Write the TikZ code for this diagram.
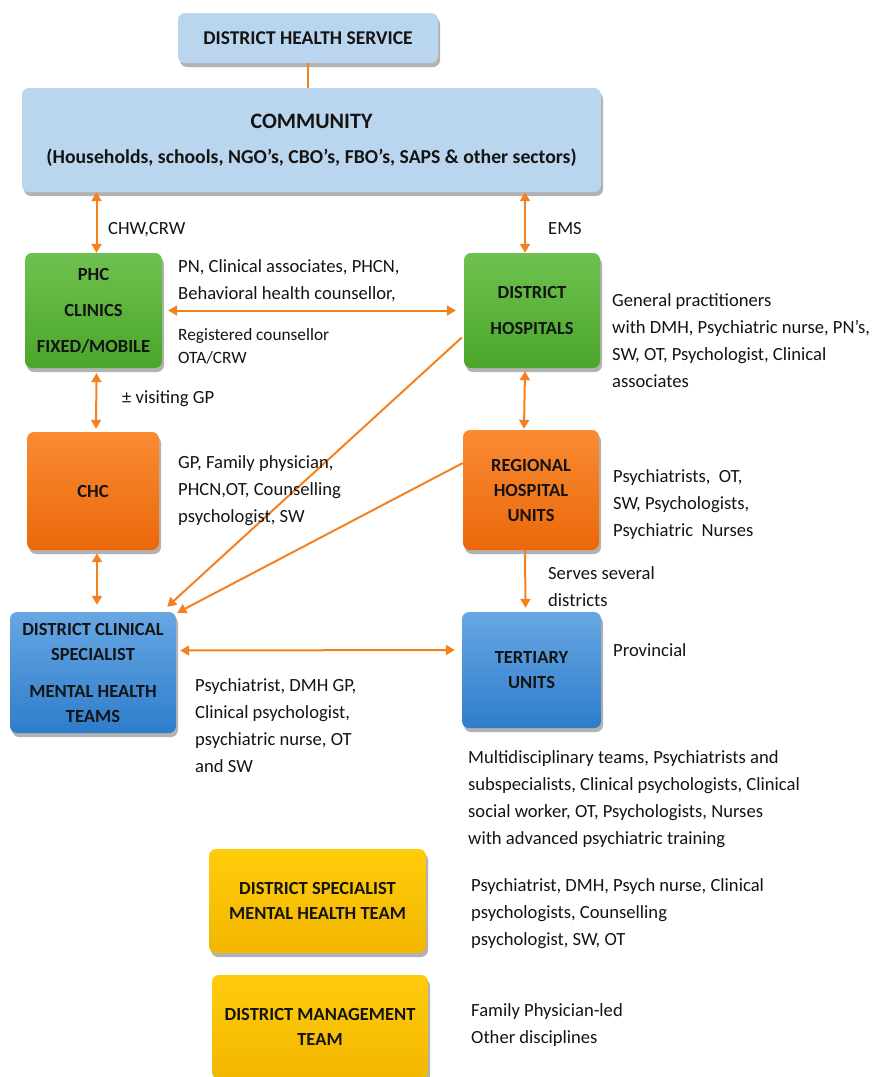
\documentclass[tikz,border=0pt]{standalone}
\usepackage{fontspec}
\setmainfont{Carlito}
\usetikzlibrary{arrows.meta,shadows,calc}
\definecolor{lblue}{HTML}{BAD5EE}
\definecolor{gtop}{HTML}{6FC14F}
\definecolor{gbot}{HTML}{4AA62A}
\definecolor{otop}{HTML}{F98B33}
\definecolor{obot}{HTML}{EB680A}
\definecolor{btop}{HTML}{67A7E3}
\definecolor{bbot}{HTML}{2E7DCB}
\definecolor{ytop}{HTML}{FFCC0A}
\definecolor{ybot}{HTML}{F2B700}
\definecolor{arrc}{HTML}{F5801F}
\definecolor{txt}{HTML}{141414}
\tikzset{
  box/.style={rounded corners=7pt, inner sep=0pt, align=center, text=txt,
    font=\bfseries\fontsize{18.5}{25}\selectfont,
    drop shadow={shadow xshift=2pt, shadow yshift=-4pt, opacity=0.3, fill=black}},
  greenbox/.style={box, top color=gtop, bottom color=gbot},
  orangebox/.style={box, top color=otop, bottom color=obot},
  bluebox/.style={box, top color=btop, bottom color=bbot},
  yellowbox/.style={box, top color=ytop, bottom color=ybot},
  lab/.style={anchor=base west, inner sep=0pt, align=left, text=txt,
    font=\fontsize{18.6}{27}\selectfont},
  tip/.tip={Triangle[length=9pt,width=10pt]},
  biarr/.style={draw=arrc, line width=2pt, tip-tip},
  onearr/.style={draw=arrc, line width=2pt, -tip},
  plain/.style={draw=arrc, line width=2pt}
}
\begin{document}
\begin{tikzpicture}[x=1pt,y=-1pt]
\useasboundingbox (0,0) rectangle (872,1077);
% boxes
\node[box, fill=lblue, minimum width=260pt, minimum height=50pt, font=\bfseries\fontsize{19.5}{25}\selectfont] (dhs) at (308,38) {DISTRICT HEALTH SERVICE};
\node[box, fill=lblue, minimum width=579pt, minimum height=104pt, font=\bfseries\fontsize{19.7}{25}\selectfont] (com) at (311.5,140)
  {{\fontsize{22}{26}\selectfont COMMUNITY}\\[10pt](Households, schools, NGO’s, CBO’s, FBO’s, SAPS \& other sectors)};
\node[greenbox, minimum width=137pt, minimum height=115pt] (phc) at (93.5,310.5) {PHC\\[11pt]CLINICS\\[11pt]FIXED/MOBILE};
\node[greenbox, minimum width=136pt, minimum height=115pt] (dh) at (532,310.5) {DISTRICT\\[11pt]HOSPITALS};
\node[orangebox, minimum width=132pt, minimum height=118pt] (chc) at (93,491) {CHC};
\node[orangebox, minimum width=136pt, minimum height=120pt] (rhu) at (531,490) {REGIONAL\\HOSPITAL\\UNITS};
\node[bluebox, minimum width=166pt, minimum height=121pt] (dcs) at (93,672.5) {DISTRICT CLINICAL\\SPECIALIST\\[12pt]MENTAL HEALTH\\TEAMS};
\node[bluebox, minimum width=139pt, minimum height=116pt] (ter) at (531.5,670) {TERTIARY\\UNITS};
\node[yellowbox, minimum width=217pt, minimum height=104pt] (dsm) at (317.5,901) {DISTRICT SPECIALIST\\MENTAL HEALTH TEAM};
\node[yellowbox, minimum width=216pt, minimum height=104pt] (dmt) at (320,1027) {DISTRICT MANAGEMENT\\TEAM};
% connectors
\draw[plain] (dhs.south) -- (com.north -| dhs.south);
\draw[biarr] ([xshift=3pt]phc.north) -- ([xshift=3pt]phc.north |- com.south);
\draw[biarr] ([xshift=-7pt]dh.north) -- ([xshift=-7pt]dh.north |- com.south);
\draw[biarr] ([xshift=6pt]phc.east) -- ([xshift=-8pt]dh.west);
\draw[biarr] ([xshift=3pt,yshift=-5pt]phc.south) -- ([xshift=3pt,yshift=3pt]chc.north);
\draw[biarr] ([xshift=-7pt,yshift=-3pt]dh.south) -- ([xshift=-7pt,yshift=1pt]rhu.north);
\draw[biarr] ([xshift=4pt,yshift=-3pt]chc.south) -- ([xshift=4pt,yshift=7pt]dcs.north);
\draw[onearr] ([xshift=-6pt]rhu.south) -- ([xshift=-6pt,yshift=4pt]ter.north);
\draw[onearr] ([xshift=-2pt,yshift=-27pt]dh.west) -- ([xshift=-9pt,yshift=5pt]dcs.north east);
\draw[onearr] ([yshift=27pt]rhu.west) -- ([xshift=1pt,yshift=-1pt]dcs.north east);
\draw[biarr] ([xshift=4pt,yshift=22pt]dcs.east) -- ([xshift=-7pt,yshift=20pt]ter.west);
% labels (anchor = baseline of the last line)
\node[lab] (l1) at (108,234.5) {CHW,CRW};
\node[lab] (l2) at (548,234.5) {EMS};
\node[lab] (l3) at (178,299.5) {PN, Clinical associates, PHCN,\\Behavioral health counsellor,};
\node[lab, font=\fontsize{17.3}{23}\selectfont] (l4) at (178,363) {Registered counsellor\\OTA/CRW};
\node[lab] (l5) at (122,403.5) {± visiting GP};
\node[lab] (l6) at (612,387.5) {General practitioners\\with DMH, Psychiatric nurse, PN’s,\\SW, OT, Psychologist, Clinical\\associates};
\node[lab] (l7) at (178,522.5) {GP, Family physician,\\PHCN,OT, Counselling\\psychologist, SW};
\node[lab] (l8) at (613,536.5) {Psychiatrists,\ \ OT,\\SW, Psychologists,\\Psychiatric\ \ Nurses};
\node[lab] (l9) at (548,606.5) {Serves several\\districts};
\node[lab] (l10) at (613,656.5) {Provincial};
\node[lab] (l11) at (195,772.5) {Psychiatrist, DMH GP,\\Clinical psychologist,\\psychiatric nurse, OT\\and SW};
\node[lab] (l12) at (468,844.5) {Multidisciplinary teams, Psychiatrists and\\subspecialists, Clinical psychologists, Clinical\\social worker, OT, Psychologists, Nurses\\with advanced psychiatric training};
\node[lab] (l13) at (471,945.5) {Psychiatrist, DMH, Psych nurse, Clinical\\psychologists, Counselling\\psychologist, SW, OT};
\node[lab] (l14) at (471,1043.5) {Family Physician-led\\Other disciplines};
\end{tikzpicture}
\end{document}
